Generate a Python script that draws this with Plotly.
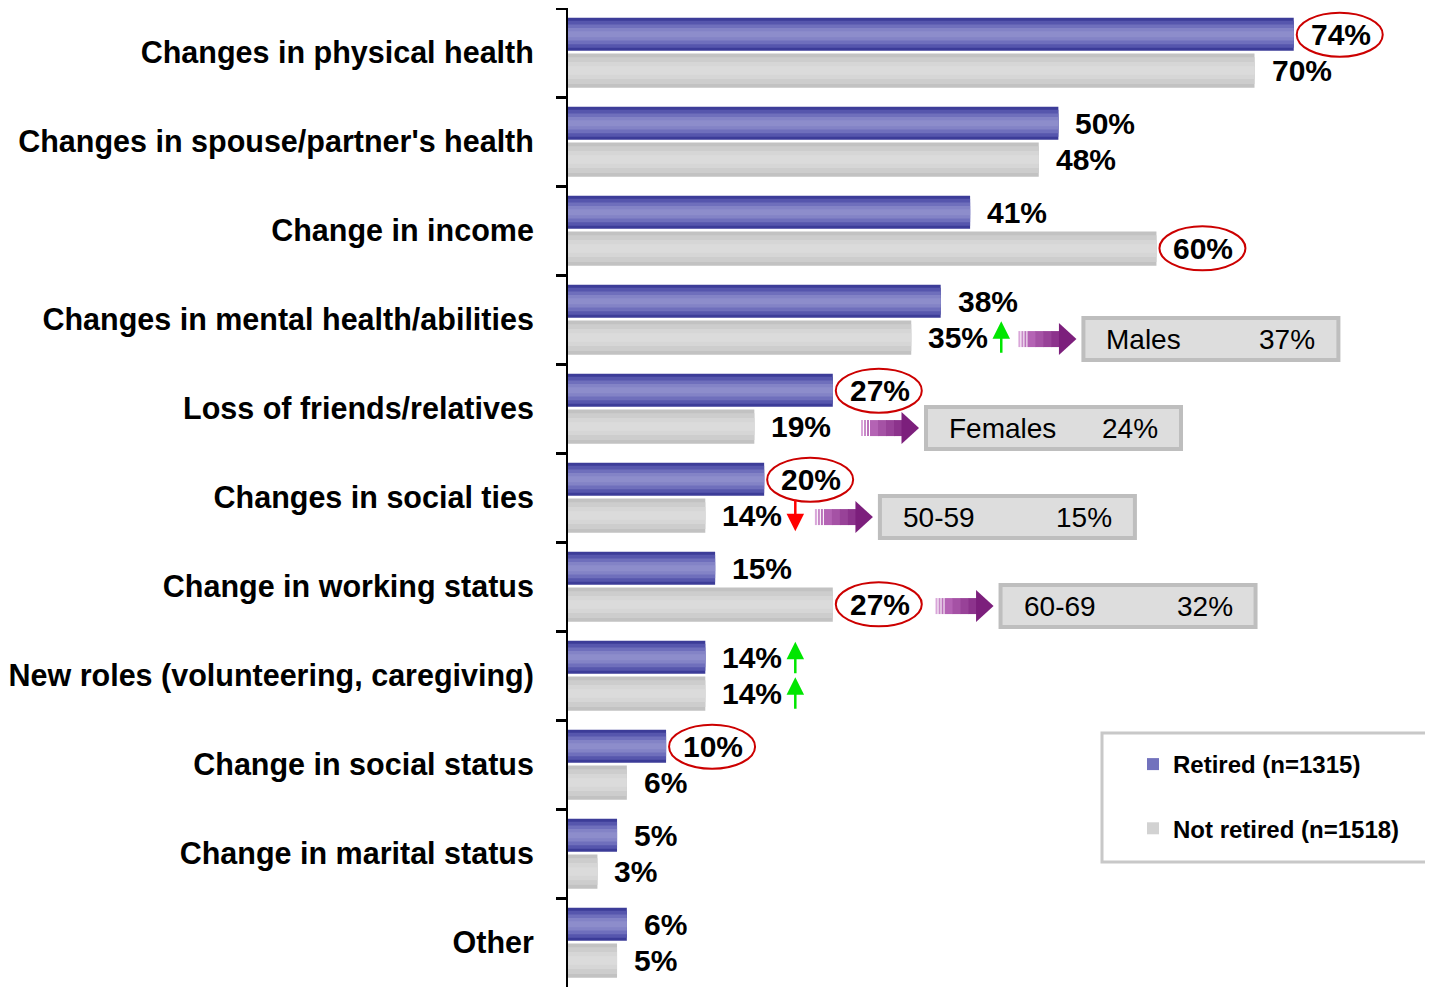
import plotly.graph_objects as go

# ---------------- data ----------------
categories = [
    "Changes in physical health",
    "Changes in spouse/partner's health",
    "Change in income",
    "Changes in mental health/abilities",
    "Loss of friends/relatives",
    "Changes in social ties",
    "Change in working status",
    "New roles (volunteering, caregiving)",
    "Change in social status",
    "Change in marital status",
    "Other",
]
retired = [74, 50, 41, 38, 27, 20, 15, 14, 10, 5, 6]
not_retired = [70, 48, 60, 35, 19, 14, 27, 14, 6, 3, 5]
series_names = ["Retired (n=1315)", "Not retired (n=1518)"]

circled_retired = [0, 4, 5, 8]
circled_not_retired = [2, 6]
up_retired = [7]
up_not_retired = [3, 7]
down_not_retired = [5]

sub_labels = ["Males", "Females", "50-59", "60-69"]
sub_values = [37, 24, 15, 32]
sub_rows = [3, 4, 5, 6]

# ---------------- layout constants ----------------
FONT = "Liberation Sans, Arial, sans-serif"
# the page body has an 8px margin, so the figure is 8px smaller on each axis
W, H = 1425, 982
ML, MR, MT, MB = 560, 0, 0, 3
XMAX = 88.2
box_x = [52.35, 36.3, 31.6, 43.9]     # left edge of the sub-group boxes (x units)

R_OFF, R_W = -0.39, 0.37     # retired bar offset/width (category units)
N_OFF, N_W = 0.01, 0.385     # not-retired bar offset/width
R_Y, N_Y = -0.2, 0.2         # label row offsets

fig = go.Figure()

blue_layers = [(1.0, "#3c3c98"), (0.82, "#5656ad"), (0.6, "#6f6fbc"), (0.38, "#8383c6"), (0.18, "#8d8dcb")]
gray_layers = [(1.0, "#c2c2c2"), (0.78, "#cdcdcd"), (0.5, "#d6d6d6"), (0.25, "#dbdbdb")]


def add_bar(vals, name, off, width, layers, legend_color, group):
    for i, (frac, col) in enumerate(layers):
        w = width * frac
        o = off + (width - w) / 2
        fig.add_trace(go.Bar(
            y=categories, x=vals, orientation="h",
            offset=o, width=w,
            marker=dict(color=col, line=dict(width=0)),
            name=name, legendgroup=group, showlegend=False,
            hoverinfo="x+name" if i == 0 else "skip",
        ))
    # legend-only trace
    fig.add_trace(go.Bar(
        y=[None], x=[None], orientation="h", name=name,
        marker=dict(color=legend_color, line=dict(width=0)),
        legendgroup=group, showlegend=True,
    ))


add_bar(retired, series_names[0], R_OFF, R_W, blue_layers, "#7272bd", "r")
add_bar(not_retired, series_names[1], N_OFF, N_W, gray_layers, "#d2d2d2", "n")

annotations = []
shapes = []

lab_font = dict(family=FONT, size=30, color="black")

# value labels
for i, v in enumerate(retired):
    annotations.append(dict(x=v, y=i + R_Y, xref="x", yref="y", text=f"<b>{v}%</b>",
                            showarrow=False, xanchor="left", yanchor="middle", xshift=15,
                            font=lab_font))
for i, v in enumerate(not_retired):
    annotations.append(dict(x=v, y=i + N_Y, xref="x", yref="y", text=f"<b>{v}%</b>",
                            showarrow=False, xanchor="left", yanchor="middle", xshift=15,
                            font=lab_font))

# red ellipses around highlighted labels
def ellipse(v, yy):
    shapes.append(dict(type="circle", xref="x", yref="y", xsizemode="pixel", ysizemode="pixel",
                       xanchor=v, yanchor=yy, x0=3, x1=89, y0=-22, y1=22,
                       line=dict(color="#cc0000", width=2), fillcolor="rgba(0,0,0,0)"))

for i in circled_retired:
    ellipse(retired[i], i + R_Y)
for i in circled_not_retired:
    ellipse(not_retired[i], i + N_Y)

# green / red significance arrows
def sig_arrow(v, yy, up, color):
    annotations.append(dict(x=v, y=yy, xref="x", yref="y", text="", showarrow=True,
                            xshift=90, yshift=16 if up else -16,
                            ax=0, ay=33 if up else -33, axref="pixel", ayref="pixel",
                            arrowhead=2, arrowsize=1.4, arrowwidth=2.5, arrowcolor=color))

for i in up_retired:
    sig_arrow(retired[i], i + R_Y, True, "#00e600")
for i in up_not_retired:
    sig_arrow(not_retired[i], i + N_Y, True, "#00e600")
for i in down_not_retired:
    sig_arrow(not_retired[i], i + N_Y, False, "#ff0000")

# sub-group boxes with purple block arrows
box_font = dict(family=FONT, size=28, color="black")
for lab, val, row, bx in zip(sub_labels, sub_values, sub_rows, box_x):
    yy = row + 0.22
    shapes.append(dict(type="rect", xref="x", yref="y", xsizemode="pixel", ysizemode="pixel",
                       xanchor=bx, yanchor=yy, x0=2, x1=257, y0=-21, y1=21,
                       fillcolor="#dddddd", line=dict(color="#bebebe", width=4)))
    annotations.append(dict(x=bx, y=yy, xref="x", yref="y", text=lab, showarrow=False,
                            xanchor="left", yanchor="middle", xshift=23, font=box_font))
    annotations.append(dict(x=bx, y=yy, xref="x", yref="y", text=f"{val}%", showarrow=False,
                            xanchor="right", yanchor="middle", xshift=236, font=box_font))
    # striped tail
    for k, col in enumerate(["#d9a6d9", "#c88ac8", "#bb72bb"]):
        x0 = -63 + 3 * k
        shapes.append(dict(type="rect", xref="x", yref="y", xsizemode="pixel", ysizemode="pixel",
                           xanchor=bx, yanchor=yy, x0=x0, x1=x0 + 2, y0=-8, y1=8,
                           fillcolor=col, line=dict(width=0)))
    body_cols = ["#b463b4", "#a552a5", "#984298", "#8c338c"]
    seg = (-22 - (-54)) / len(body_cols)
    for k, col in enumerate(body_cols):
        x0 = -54 + seg * k
        shapes.append(dict(type="rect", xref="x", yref="y", xsizemode="pixel", ysizemode="pixel",
                           xanchor=bx, yanchor=yy, x0=x0, x1=x0 + seg + 0.6, y0=-8, y1=8,
                           fillcolor=col, line=dict(width=0)))
    shapes.append(dict(type="path", xref="x", yref="y", xsizemode="pixel", ysizemode="pixel",
                       xanchor=bx, yanchor=yy, path="M -22.5 -16 L -5 0 L -22.5 16 Z",
                       fillcolor="#7c1f7c", line=dict(width=0)))

# legend frame (page coordinates -> figure coordinates: minus 8px body margin)
pw = W - ML - MR
ph = H - MT - MB
def px_x(page_x):
    return (page_x - 8 - ML) / pw
def px_y(page_y):
    return (H - MB - (page_y - 8)) / ph

shapes.append(dict(type="rect", xref="paper", yref="paper",
                   x0=px_x(1102), x1=1.02, y0=px_y(862), y1=px_y(733),
                   line=dict(color="#c8c8c8", width=3), fillcolor="rgba(0,0,0,0)", layer="above"))

fig.update_layout(
    width=W, height=H,
    margin=dict(l=ML, r=MR, t=MT, b=MB, autoexpand=False),
    barmode="overlay",
    plot_bgcolor="white", paper_bgcolor="white",
    font=dict(family=FONT, color="black"),
    showlegend=True,
    legend=dict(x=px_x(1133), y=px_y(742), xanchor="left", yanchor="top",
                traceorder="grouped", tracegroupgap=30, bgcolor="rgba(0,0,0,0)", borderwidth=0,
                itemwidth=30,
                font=dict(family=FONT, size=24, color="black", weight="bold")),
    xaxis=dict(range=[0, XMAX], visible=False, fixedrange=True, automargin=False),
    yaxis=dict(type="category", categoryorder="array", categoryarray=categories,
               autorange="reversed", showline=True, linecolor="black", linewidth=2,
               ticks="outside", tickson="boundaries", ticklen=10, tickwidth=3, tickcolor="black",
               showgrid=False, zeroline=False, ticklabelstandoff=26, automargin=False,
               tickfont=dict(family=FONT, size=30.5, color="black", weight="bold")),
    annotations=annotations,
    shapes=shapes,
)

fig.write_html("out.html")
